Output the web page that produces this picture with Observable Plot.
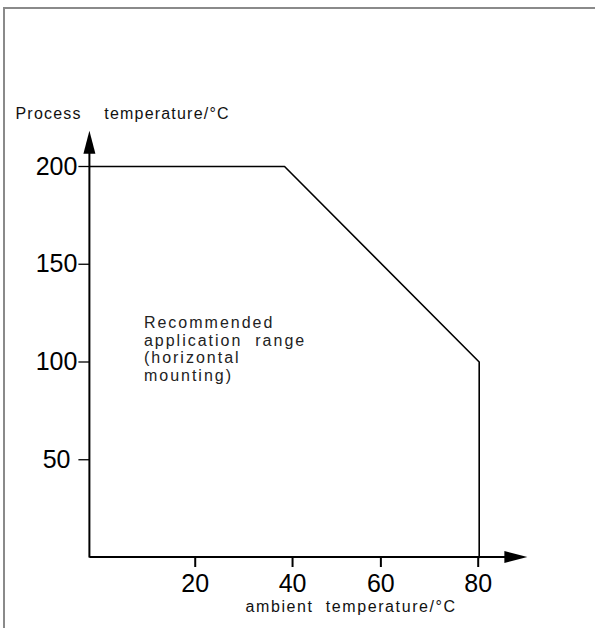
<!DOCTYPE html>
<html>
<head>
<meta charset="utf-8">
<script src="https://cdn.jsdelivr.net/npm/d3@7"></script>
<script src="https://cdn.jsdelivr.net/npm/@observablehq/plot@0.6"></script>
<style>
  html, body { margin: 0; padding: 0; background: #fff; }
  #wrap { position: relative; width: 595px; height: 628px; overflow: hidden; }
  #frame { position: absolute; left: 3px; top: 7px; width: 592px; height: 621px;
           border-top: 2px solid #8a8a8a; border-left: 2px solid #8a8a8a; box-sizing: border-box; }
  #chart { position: absolute; left: 0; top: 0; }
  #chart svg { overflow: visible; }
</style>
</head>
<body>
<div id="wrap"><div id="frame"></div><div id="chart"></div></div>
<script>
// ---- data ----
const ambientTemp = [0, 40, 80, 80];          // °C
const processTemp = [200, 200, 100, 0];       // °C
const xTicks = [20, 40, 60, 80];
const yTicks = [50, 100, 150, 200];
const xDomain = [0, 80];
const yDomain = [0, 200];
const xAxisEnd = 90;    // arrow tip (data units)
const yAxisEnd = 218;   // arrow tip (data units)
const yLabel = "Process\u00a0\u00a0\u00a0\u00a0temperature/°C";
const xLabel = "ambient\u00a0\u00a0temperature/°C";
const regionLabel = "Recommended\napplication\u00a0\u00a0range\n(horizontal\nmounting)";

const boundary = ambientTemp.map((a, i) => ({ambient: a, process: processTemp[i]}));

function arrowAxes(index, scales) {
  const {x, y} = scales;
  const g = d3.create("svg:g");
  const x0 = x(0), y0 = y(0), xt = x(xAxisEnd), yt = y(yAxisEnd);
  const L = 23, W = 6;
  g.append("line").attr("x1", x0).attr("y1", y0).attr("x2", xt - L + 1).attr("y2", y0)
    .attr("stroke", "#000").attr("stroke-width", 2);
  g.append("line").attr("x1", x0).attr("y1", y0 + 0.5).attr("x2", x0).attr("y2", yt + L - 1)
    .attr("stroke", "#000").attr("stroke-width", 2);
  g.append("path").attr("d", `M${xt},${y0}L${xt - L},${y0 - W}L${xt - L},${y0 + W}Z`).attr("fill", "#000");
  g.append("path").attr("d", `M${x0},${yt}L${x0 - W},${yt + L}L${x0 + W},${yt + L}Z`).attr("fill", "#000");
  return g.node();
}

const plot = Plot.plot({
  width: 595,
  height: 628,
  marginLeft: 89.4,
  marginRight: 116.3,
  marginTop: 166,
  marginBottom: 71,
  x: {domain: xDomain},
  y: {domain: yDomain},
  style: {fontFamily: "'Liberation Sans', Arial, sans-serif", background: "transparent", color: "#000"},
  marks: [
    Plot.axisY(yTicks, {tickSize: 11, tickPadding: 1.5, fontSize: 25, strokeWidth: 1.3,
      tickFormat: d => d === 50 ? "50\u00a0" : String(d), label: null}),
    Plot.axisX(xTicks.slice(0, 2), {tickSize: 10, tickPadding: 7, fontSize: 25, strokeWidth: 2, dx: 8, label: null}),
    Plot.axisX(xTicks.slice(2), {tickSize: 10, tickPadding: 7, fontSize: 25, strokeWidth: 2, dx: -1, label: null}),
    Plot.line(boundary, {x: "ambient", y: "process", stroke: "#000", strokeWidth: 1.6}),
    arrowAxes,
    Plot.text([yLabel], {frameAnchor: "top-left", textAnchor: "start", lineAnchor: "top",
      dx: -74.4, dy: -59.1, fontSize: 16, fill: "#111"}),
    Plot.text([xLabel], {frameAnchor: "top-left", textAnchor: "start", lineAnchor: "top",
      dx: 155.6, dy: 434.3, fontSize: 16, fill: "#111"}),
    Plot.text([regionLabel], {frameAnchor: "top-left", textAnchor: "start", lineAnchor: "top",
      dx: 54, dy: 149.3, fontSize: 16, lineHeight: 1.1, fill: "#222"})
  ]
});

const svg = d3.select(plot);
svg.selectAll("text").each(function() {
  const t = this.textContent;
  if (t.startsWith("Process")) this.style.letterSpacing = "1.2px";
  if (t.startsWith("ambient")) this.style.letterSpacing = "1.6px";
  if (/Recommended/.test(t)) this.style.letterSpacing = "2px";
});
document.getElementById("chart").appendChild(plot);
</script>
</body>
</html>
